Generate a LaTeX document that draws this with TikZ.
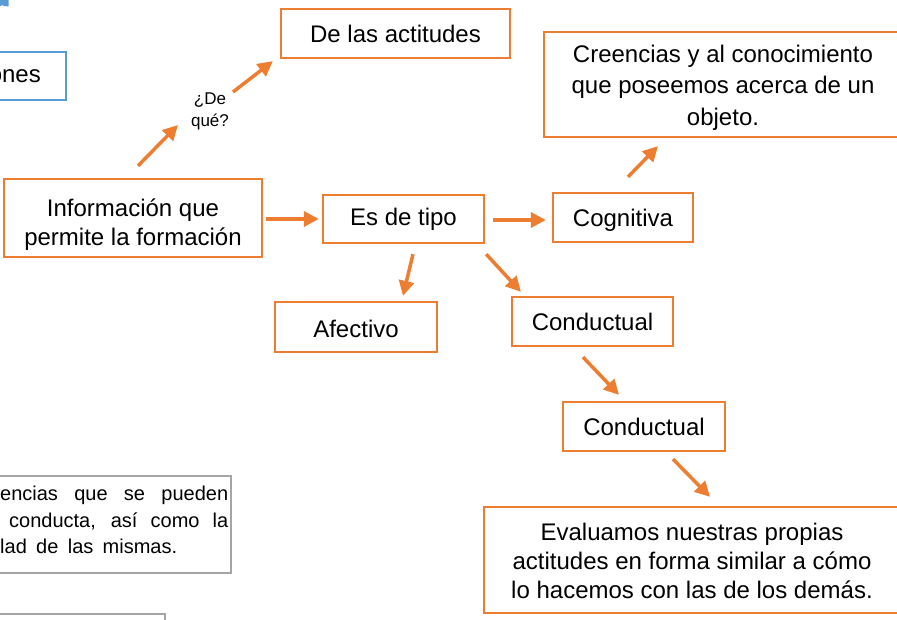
\documentclass[tikz,border=0pt]{standalone}
\usepackage{fontspec}
\setmainfont{Liberation Sans}
\usetikzlibrary{arrows.meta}
\definecolor{naranja}{HTML}{ED7D31}
\definecolor{azul}{HTML}{5B9BD5}
\definecolor{gris}{HTML}{A5A5A5}

\begin{document}
\begin{tikzpicture}[%
      x=1pt, y=1pt,
      every node/.style={rectangle, inner sep=0pt, align=center,
        font=\fontsize{24}{29}\selectfont},
      caja/.style={draw=naranja, line width=2.3pt, fill=white},
      cajagris/.style={draw=gris, line width=2.3pt},
      >={Triangle[length=15pt,width=15pt]}
    ]
    \useasboundingbox (0,-620) rectangle (897,0);
    \clip (0,-620) rectangle (897,0);
    % trozos del mapa que quedan fuera del recorte
    \fill [azul] (0,0) -- (8.5,0) -- (8.5,-6.5) -- (4,-6) -- (2,-5) -- (0,-6.5) -- cycle;
    \node [draw=azul, line width=2.3pt, anchor=east, minimum height=48pt,
      text width=90pt, inner xsep=25pt, align=right] (ones) at (67,-76) {ones};
    \node [cajagris, anchor=north east, minimum width=380pt, minimum height=97pt] (consec) at (232,-475) {};
    \node [anchor=north west, align=left, font=\fontsize{20}{26.5}\selectfont] (consectxt) at (0,-486)
      {\makebox[228pt][s]{encias que se pueden}\\
       \hspace*{9pt}\makebox[219pt][s]{conducta, así como la}\\
       \makebox[177pt][s]{lad de las mismas.}};
    \node [cajagris, anchor=north east, minimum width=300pt, minimum height=80pt] (otra) at (166,-613) {};

    \node [caja, minimum width=258pt, minimum height=78pt] (info) at (133,-218)
      {\rule{0pt}{30pt}Información que\\permite la formación};
    \node [font=\fontsize{17}{22}\selectfont] (deque) at (210,-111) {¿De\\qué?};
    \node [caja, minimum width=229pt, minimum height=49pt] (actitudes) at (395.5,-33.5) {De las actitudes};
    \node [caja, minimum width=161pt, minimum height=48pt] (tipo) at (403.5,-219) {Es de tipo};
    \node [caja, minimum width=140pt, minimum height=49pt] (cognitiva) at (623,-217.5) {\rule{0pt}{22pt}Cognitiva};
    \node [caja, minimum width=358pt, minimum height=105pt, font=\fontsize{24}{31.5}\selectfont] (creencias) at (723,-84.5)
      {\rule{0pt}{23pt}Creencias y al conocimiento\\que poseemos acerca de un\\objeto.};
    \node [caja, minimum width=162pt, minimum height=50pt] (afectivo) at (356,-327) {\rule{0pt}{21pt}Afectivo};
    \node [caja, minimum width=161pt, minimum height=49pt] (conductual) at (592.5,-321.5) {Conductual};
    \node [caja, minimum width=162pt, minimum height=49pt] (conductual2) at (644,-426.5) {Conductual};
    \node [caja, minimum width=416pt, minimum height=106pt] (evaluamos) at (692,-560)
      {\rule{0pt}{20pt}Evaluamos nuestras propias\\actitudes en forma similar a cómo\\lo hacemos con las de los demás.};

    \path [color=naranja, draw, line width=3.5pt]
    ([xshift=5pt,yshift=12pt]info.north) edge[->] ([xshift=-32pt,yshift=-14pt]deque.center)
    ([xshift=23pt,yshift=19pt]deque.center) edge[->] ([xshift=-7pt,yshift=-2pt]actitudes.south west)
    ([xshift=3pt]info.east |- tipo.west) edge[->] ([xshift=-3pt]tipo.west)
    ([xshift=8pt,yshift=-1pt]tipo.east) edge[->] ([xshift=-6pt,yshift=-1pt]tipo.east -| cognitiva.west)
    ([xshift=5pt,yshift=15pt]cognitiva.north) edge[->] ([xshift=-65pt,yshift=-8pt]creencias.south)
    ([xshift=9.5pt,yshift=-10pt]tipo.south) edge[->] ([xshift=47pt,yshift=5pt]afectivo.north)
    ([xshift=1pt,yshift=-10pt]tipo.south east) edge[->] ([xshift=10pt,yshift=4pt]conductual.north west)
    ([xshift=-9.5pt,yshift=-10pt]conductual.south) edge[->] ([xshift=-25pt,yshift=6pt]conductual2.north)
    ([xshift=29pt,yshift=-7pt]conductual2.south) edge[->] ([xshift=18pt,yshift=9pt]evaluamos.north)
    ;
\end{tikzpicture}
\end{document}
